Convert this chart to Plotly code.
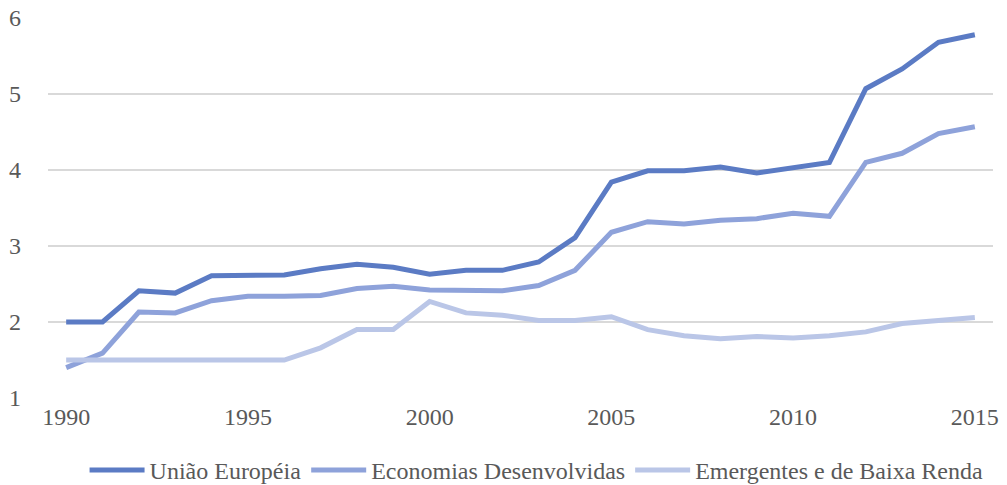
import plotly.graph_objects as go

years = list(range(1990, 2016))
uniao_europeia = [2.00, 2.00, 2.41, 2.38, 2.61, 2.62, 2.62, 2.70, 2.76, 2.72, 2.63, 2.68, 2.68,
                  2.79, 3.11, 3.84, 3.99, 3.99, 4.04, 3.96, 4.03, 4.10, 5.07, 5.33, 5.68, 5.78]
economias_desenvolvidas = [1.40, 1.59, 2.13, 2.12, 2.28, 2.34, 2.34, 2.35, 2.44, 2.47, 2.42, 2.41, 2.41,
                           2.48, 2.68, 3.18, 3.32, 3.29, 3.34, 3.36, 3.43, 3.39, 4.10, 4.22, 4.48, 4.57]
emergentes = [1.50, 1.50, 1.50, 1.50, 1.50, 1.50, 1.50, 1.66, 1.90, 1.90, 2.27, 2.12, 2.09,
              2.02, 2.02, 2.07, 1.90, 1.82, 1.78, 1.81, 1.79, 1.82, 1.87, 1.98, 2.02, 2.06]
series_names = ["União Européia", "Economias Desenvolvidas", "Emergentes e de Baixa Renda"]
x_ticks = [1990, 1995, 2000, 2005, 2010, 2015]
y_ticks = [1, 2, 3, 4, 5, 6]

colors = ["#5b7bc4", "#8ea2da", "#bac6e7"]

fig = go.Figure()
for name, vals, c in zip(series_names, [uniao_europeia, economias_desenvolvidas, emergentes], colors):
    fig.add_trace(go.Scatter(x=years, y=vals, mode="lines", name=name,
                             line=dict(color=c, width=5)))

font_family = "Liberation Serif"
fs = 24
fig.update_layout(
    width=1007, height=485,
    margin=dict(l=48, r=14, t=18, b=87, autoexpand=False),
    paper_bgcolor="white", plot_bgcolor="white",
    font=dict(family=font_family, size=fs, color="#595959"),
    showlegend=True,
    legend=dict(orientation="h", x=0.517, xanchor="center", yref="container", y=0.03, yanchor="middle",
                font=dict(family=font_family, size=fs, color="#595959"),
                itemwidth=55, tracegroupgap=0),
    xaxis=dict(range=[1989.5, 2015.5], tickvals=x_ticks, ticktext=[str(v) for v in x_ticks],
               showgrid=False, zeroline=False, showline=False, ticks="", ticklabelstandoff=2,
               tickfont=dict(family=font_family, size=fs, color="#595959")),
    yaxis=dict(range=[1, 6], tickvals=y_ticks, showgrid=True, gridcolor="#d9d9d9", gridwidth=1.5,
               zeroline=False, showline=False, ticks="", ticklabelstandoff=26,
               tickfont=dict(family=font_family, size=fs, color="#595959")),
)

fig.write_html("out.html")
